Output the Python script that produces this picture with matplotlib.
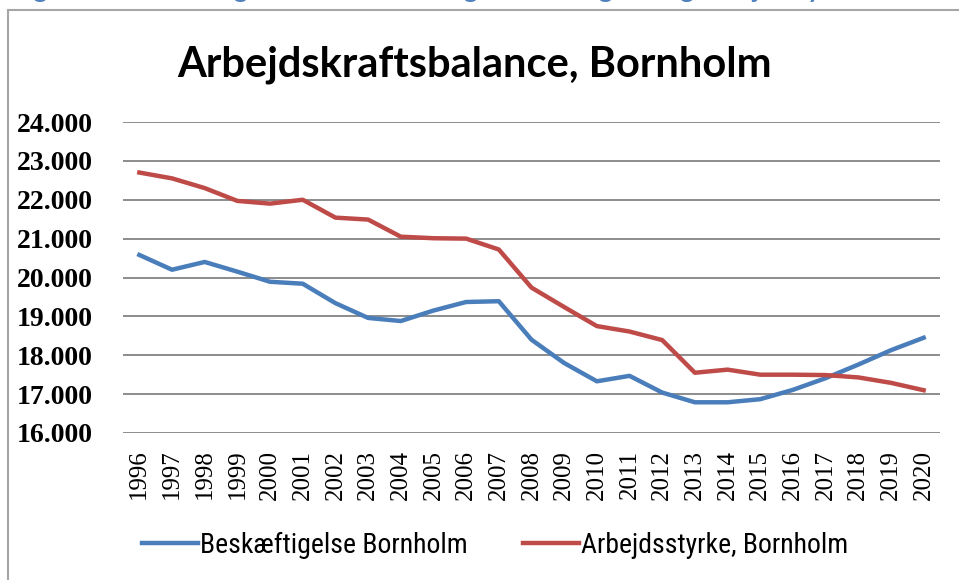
import matplotlib
matplotlib.use("Agg")
import matplotlib.pyplot as plt
from matplotlib.lines import Line2D

years = [str(y) for y in range(1996, 2021)]
beskaeftigelse = [20580, 20200, 20400, 20150, 19890, 19840, 19340, 18960, 18880, 19150,
                  19370, 19390, 18400, 17800, 17330, 17470, 17040, 16790, 16790, 16870,
                  17110, 17410, 17760, 18130, 18450]
arbejdsstyrke = [22700, 22550, 22300, 21970, 21900, 22000, 21540, 21490, 21050, 21010,
                 21000, 20720, 19740, 19240, 18750, 18610, 18390, 17550, 17630, 17500,
                 17500, 17490, 17430, 17290, 17100]
yticks = list(range(16000, 24001, 1000))

BLUE = "#4A7EBB"
RED = "#BE4B48"
NARROW = ["Liberation Sans Narrow", "Roboto Condensed", "Open Sans Condensed", "Lato"]

fig = plt.figure(figsize=(9.59, 5.8), dpi=100)
W, H = 959, 580

# axes box in pixels: x 123..940, y 122..433
ax = fig.add_axes([123 / W, 1 - 433 / H, (940 - 123) / W, (433 - 122) / H])
x = list(range(len(years)))
ax.plot(x, beskaeftigelse, color=BLUE, lw=3.2, solid_joinstyle="round", zorder=3)
ax.plot(x, arbejdsstyrke, color=RED, lw=3.2, solid_joinstyle="round", zorder=3)

ax.set_xlim(-0.5, len(years) - 0.5)
ax.set_ylim(16000, 24000)
ax.set_yticks(yticks)
ax.set_yticklabels([f"{v:,}".replace(",", ".") for v in yticks],
                   fontfamily="Liberation Serif", fontsize=20, fontweight="bold")
ax.set_xticks(x)
ax.set_xticklabels(years, rotation=90, fontfamily="Liberation Serif", fontsize=18)
ax.tick_params(length=0)
ax.tick_params(axis="y", pad=22)
ax.tick_params(axis="x", pad=12)
ax.grid(axis="y", color="#8c8c8c", lw=1.4)
ax.set_axisbelow(True)
for s in ax.spines.values():
    s.set_visible(False)

fig.text(475 / W, 1 - 65 / H, "Arbejdskraftsbalance, Bornholm", ha="center", va="center",
         fontfamily="Lato", fontweight="bold", fontsize=30)

# outer chart frame (only top and left visible)
fig.add_artist(Line2D([8 / W, 1], [1 - 10 / H] * 2, color="#a6a6a6", lw=1.5))
fig.add_artist(Line2D([8 / W] * 2, [0, 1 - 10 / H], color="#a6a6a6", lw=1.5))

# caption above the chart, cut off by the image edge as in the original
fig.text(12 / W, 1 + 2 / H, "Figur 3: Historisk og forventet udvikling i beskæftigelse og arbejdsstyrke",
         ha="left", va="baseline", color="#4F81BD", fontfamily="Lato", fontweight="bold",
         fontsize=19)

handles = [Line2D([], [], color=BLUE, lw=3.2), Line2D([], [], color=RED, lw=3.2)]
fig.legend(handles, ["Beskæftigelse Bornholm", "Arbejdsstyrke, Bornholm"],
           loc="center", bbox_to_anchor=(495 / W, 1 - 545 / H), ncol=2, frameon=False,
           prop={"family": NARROW, "size": 20},
           handlelength=2.0, handletextpad=0.08, columnspacing=2.0)

fig.savefig("out.png", dpi=100)
